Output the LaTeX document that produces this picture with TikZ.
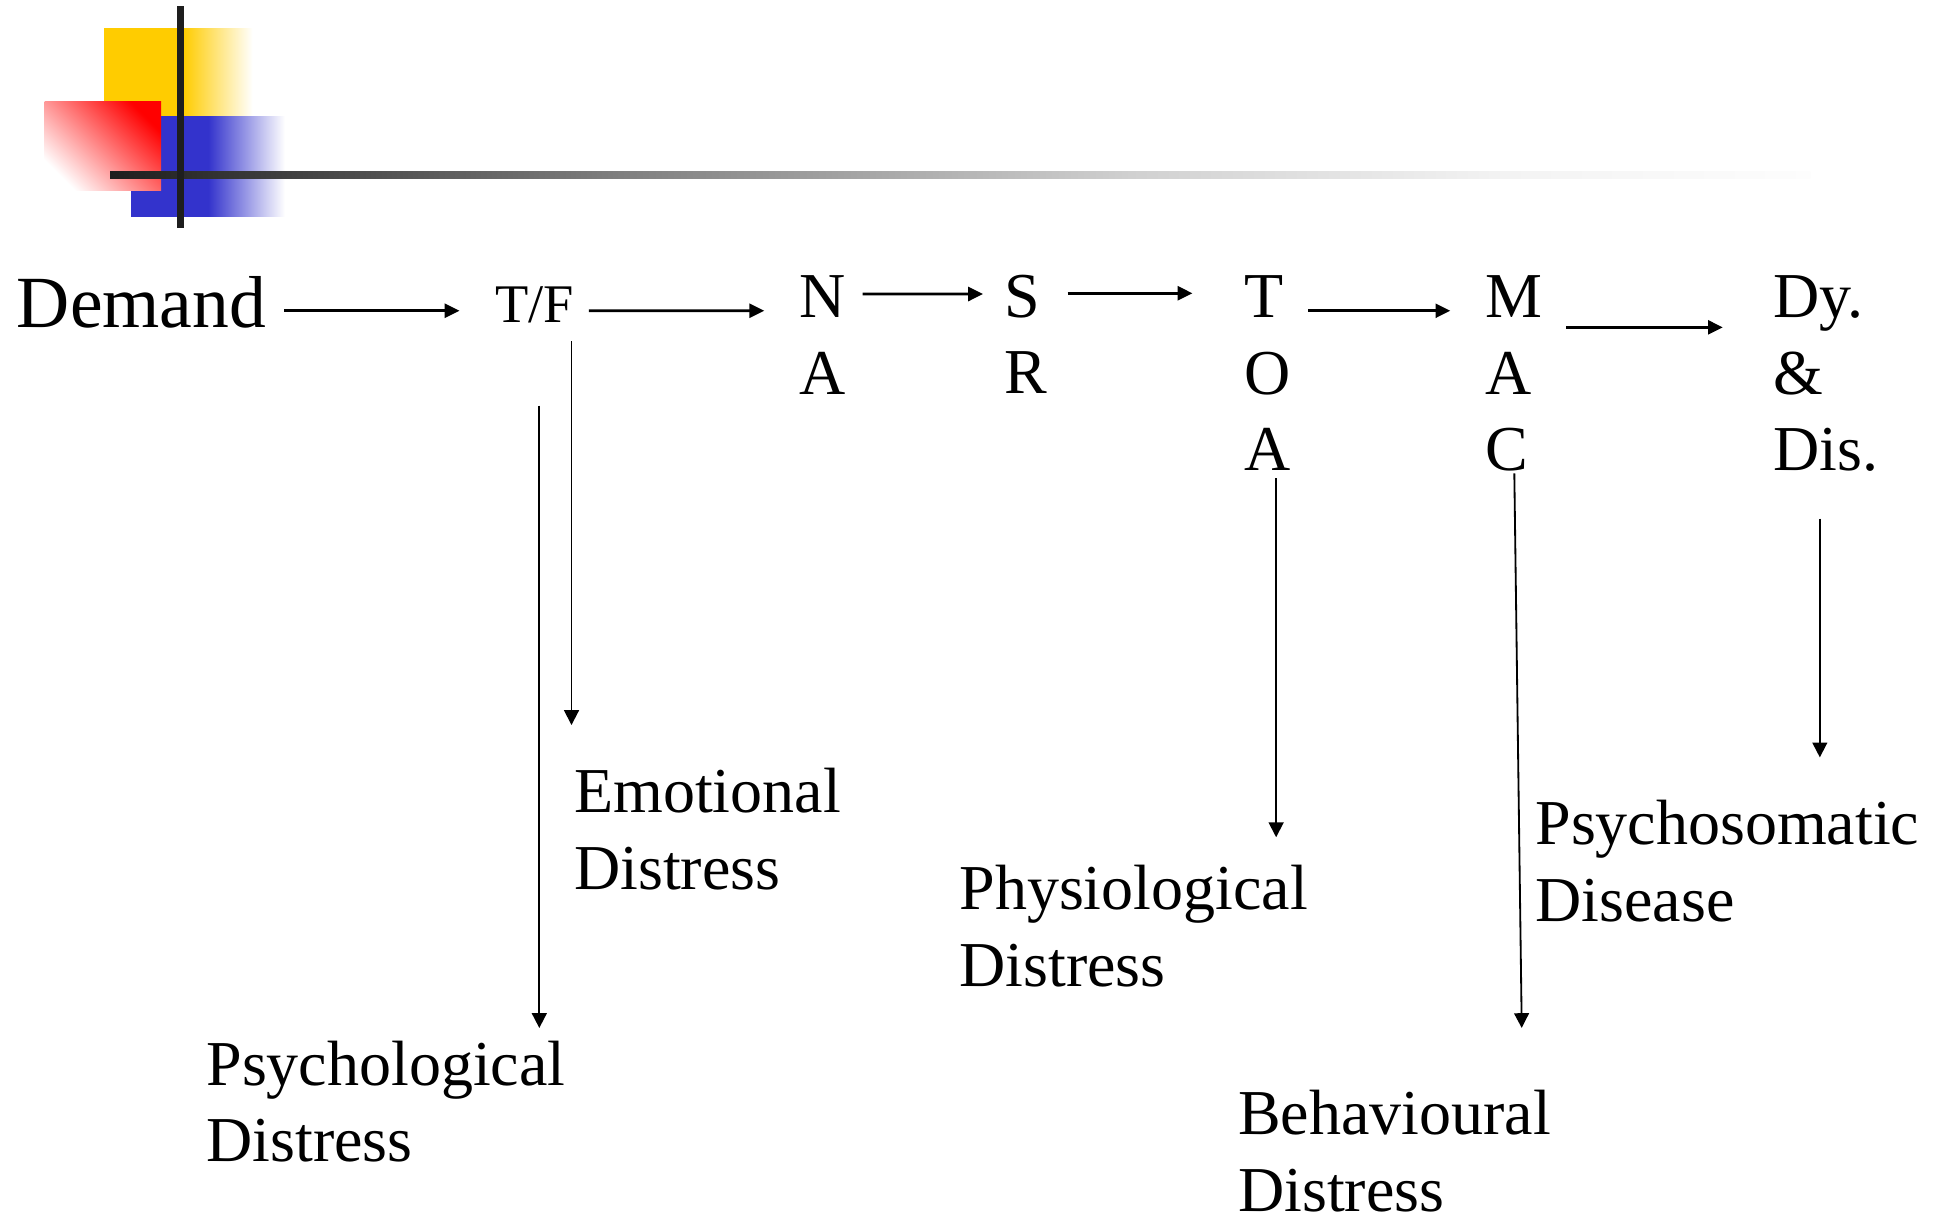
\documentclass[tikz,border=0pt]{standalone}
\usepackage{fontspec}
\setmainfont{Liberation Serif}
\usetikzlibrary{arrows.meta, calc}
\usepackage{xcolor}
\definecolor{DecoYellow}{HTML}{FFCC00}
\definecolor{DecoBlue}{HTML}{3333CC}
\definecolor{DecoRed}{HTML}{FF0000}
\definecolor{RuleDark}{HTML}{1E1E1E}
\definecolor{RuleMid}{HTML}{7F7F7F}
\definecolor{RuleLight}{HTML}{D0D0D0}
\definecolor{RulePale}{HTML}{F3F3F3}
\definecolor{RuleEnd}{HTML}{FDFDFD}
\pgfdeclarehorizontalshading{rulefade}{100bp}{color(0bp)=(RuleDark); color(25bp)=(RuleDark); color(40bp)=(RuleMid); color(55bp)=(RuleLight); color(66bp)=(RulePale); color(75bp)=(RuleEnd); color(100bp)=(RuleEnd)}
\tikzset{
    % Text styles
    word/.style={
        inner sep=0pt,
        font=\fontsize{14.7pt}{17.6pt}\selectfont
    },
    headword/.style={
        inner sep=0pt,
        anchor=base west,
        font=\fontsize{16.9pt}{20pt}\selectfont
    },
    smallword/.style={
        inner sep=0pt,
        anchor=base west,
        font=\fontsize{12.5pt}{15pt}\selectfont
    },
    stack/.style={
        word,
        align=left,
        anchor=north west
    },
    % Arrow styles
    flow/.style={
        -{Triangle[length=3.4pt,width=3.2pt]},
        line width=0.62pt,
        draw=black
    },
    drop/.style={
        -{Triangle[length=3.4pt,width=3.4pt]},
        line width=0.42pt,
        draw=black
    }
}

\begin{document}
\begin{tikzpicture}
    \useasboundingbox (0,0) rectangle (15.68,9.83);

    % corner mark
    \fill[DecoYellow] (0.84,8.89) rectangle (1.48,9.60);
    \shade[left color=DecoYellow, right color=white] (1.48,8.89) rectangle (2.04,9.60);
    \fill[DecoBlue] (1.06,8.08) rectangle (1.68,8.89);
    \shade[left color=DecoBlue, right color=white] (1.68,8.08) rectangle (2.30,8.89);
    \shade[top color=DecoRed, bottom color=white, shading angle=-45] (0.36,8.29) rectangle (1.30,9.01);
    \shade[shading=rulefade] (0.89,8.389) rectangle (14.62,8.443);
    \fill[RuleDark] (1.432,7.99) rectangle (1.487,9.78);

    \node[headword] (demand) at (0.13,7.187) {Demand};
    \node[smallword] (tf) at (3.99,7.226) {T/F};
    \node[stack] (na) at (6.45,7.612) {N\\A};
    \node[stack] (sr) at (8.10,7.619) {S\\R};
    \node[stack] (toa) at (10.04,7.612) {T\\O\\A};
    \node[stack] (mac) at (11.99,7.612) {M\\A\\C};
    \node[stack] (dydis) at (14.31,7.612) {Dy.\\\&\\Dis.};

    \node[stack] (emotional) at (4.63,3.633) {Emotional\\Distress};
    \node[stack] (psychological) at (1.66,1.433) {Psychological\\Distress};
    \node[stack] (physiological) at (7.74,2.853) {Physiological\\Distress};
    \node[stack] (psychosomatic) at (12.39,3.373) {Psychosomatic\\Disease};
    \node[stack] (behavioural) at (9.99,1.033) {Behavioural\\Distress};

    \draw[flow] ($(demand.base east)+(0.137,0.134)$) -- ($(tf.base west)+(-0.28,0.095)$);
    \draw[flow] ($(tf.base east)+(0.115,0.095)$) -- ($(na.north west)+(-0.28,-0.291)$);
    \draw[flow] ($(na.north east)+(0.127,-0.156)$) -- ($(sr.north west)+(-0.163,-0.163)$);
    \draw[flow] ($(sr.north east)+(0.162,-0.157)$) -- ($(toa.north west)+(-0.412,-0.15)$);
    \draw[flow] ($(toa.north east)+(0.137,-0.291)$) -- ($(mac.north west)+(-0.28,-0.291)$);
    \draw[flow] ($(mac.north east)+(0.181,-0.425)$) -- ($(dydis.north west)+(-0.40,-0.425)$);

    \draw[drop] ($(tf.south)+(0.04,-0.66)$) -- ($(tf.south |- psychological.north)+(0.04,0.097)$);
    \draw[drop] ($(tf.south)+(0.30,-0.14)$) -- ($(tf.south |- emotional.north)+(0.30,0.343)$);
    \draw[drop] ($(toa.south)+(0.07,-0.055)$) -- ($(toa.south |- physiological.north)+(0.07,0.217)$);
    \draw[drop] ($(mac.south)+(0,-0.01)$) -- ($(mac.south |- behavioural.north)+(0.06,0.497)$);
    \draw[drop] ($(dydis.south)+(-0.047,-0.372)$) -- ($(dydis.south |- psychosomatic.north)+(-0.047,0.342)$);
\end{tikzpicture}
\end{document}
